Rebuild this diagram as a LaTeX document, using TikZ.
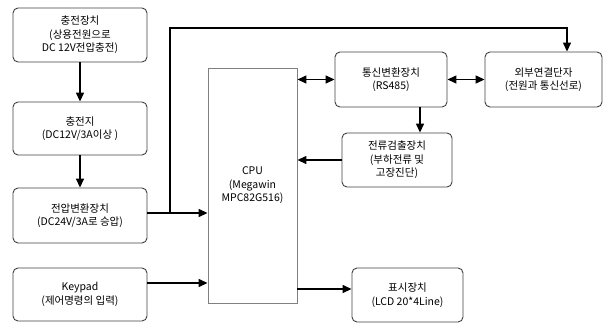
\documentclass[tikz,border=0pt]{standalone}
\usepackage{fontspec}
\setmainfont{Noto Sans CJK KR}
\usetikzlibrary{arrows.meta}
\definecolor{BoxLine}{HTML}{404040}

\tikzset{
  blk/.style={draw=BoxLine, line width=0.9pt, rounded corners=5pt, align=center,
    inner sep=1pt, font=\fontsize{10.5}{13.5}\selectfont},
  link/.style={line width=1.4pt, -{Triangle[length=9pt,width=8pt]}},
  dlink/.style={line width=1.4pt, {Triangle[length=9pt,width=8pt]}-{Triangle[length=9pt,width=8pt]}}
}

\begin{document}
\begin{tikzpicture}[x=1pt, y=-1pt]
        \useasboundingbox (0,0) rectangle (605,324);
        % left column
        \node[blk, minimum width=134pt, minimum height=54pt] (charger) at (80,35) {충전장치\\(상용전원으로\\DC 12V전압충전)};
        \node[blk, minimum width=134pt, minimum height=53pt] (battery) at (80,128.5) {충전지\\(DC12V/3A이상 )};
        \node[blk, minimum width=134pt, minimum height=55pt] (converter) at (80,215.5) {전압변환장치\\(DC24V/3A로 승압)};
        \node[blk, minimum width=134pt, minimum height=53pt] (keypad) at (80,294.5) {Keypad\\(제어명령의 입력)};
        % cpu
        \node[blk, draw=gray, rounded corners=0pt, minimum width=89pt, minimum height=235pt] (cpu) at (252.5,185.5) {CPU\\(Megawin\\MPC82G516)};
        % right side
        \node[blk, minimum width=112pt, minimum height=55pt] (comm) at (391,79.5) {통신변환장치\\(RS485)};
        \node[blk, minimum width=117pt, minimum height=55pt] (ext) at (543.5,79.5) {외부연결단자\\(전원과 통신선로)};
        \node[blk, minimum width=110pt, minimum height=54pt] (sensor) at (397,160) {전류검출장치\\(부하전류 및\\고장진단)};
        \node[blk, minimum width=111pt, minimum height=54pt] (display) at (407.5,295) {표시장치\\(LCD 20*4Line)};

        \draw[link] (charger) -- (battery);
        \draw[link] (battery) -- (converter);
        \draw[link] ([yshift=2.5pt]converter.east) -- ([yshift=2.5pt]converter.east -| cpu.west);
        \coordinate (split) at ([yshift=2.5pt]converter.east -| 170,0);
        \coordinate (ext in) at ([xshift=23.5pt]ext.north);
        \draw[link] (split) -- (170,28) -| (ext in);
        \draw[link] ([yshift=11.5pt]keypad.east) -- ([yshift=11.5pt]keypad.east -| cpu.west);
        \draw[dlink] (cpu.east |- comm.west) -- (comm.west);
        \draw[dlink] (comm.east) -- (ext.west);
        \draw[link] ([xshift=29pt]comm.south) -- ([xshift=29pt]comm.south |- sensor.north);
        \draw[link] (sensor.west) -- (sensor.west -| cpu.east);
        \draw[link] (cpu.east |- display.west) ++(0,-6) -- ([yshift=6pt]display.west);
    \end{tikzpicture}
\end{document}
